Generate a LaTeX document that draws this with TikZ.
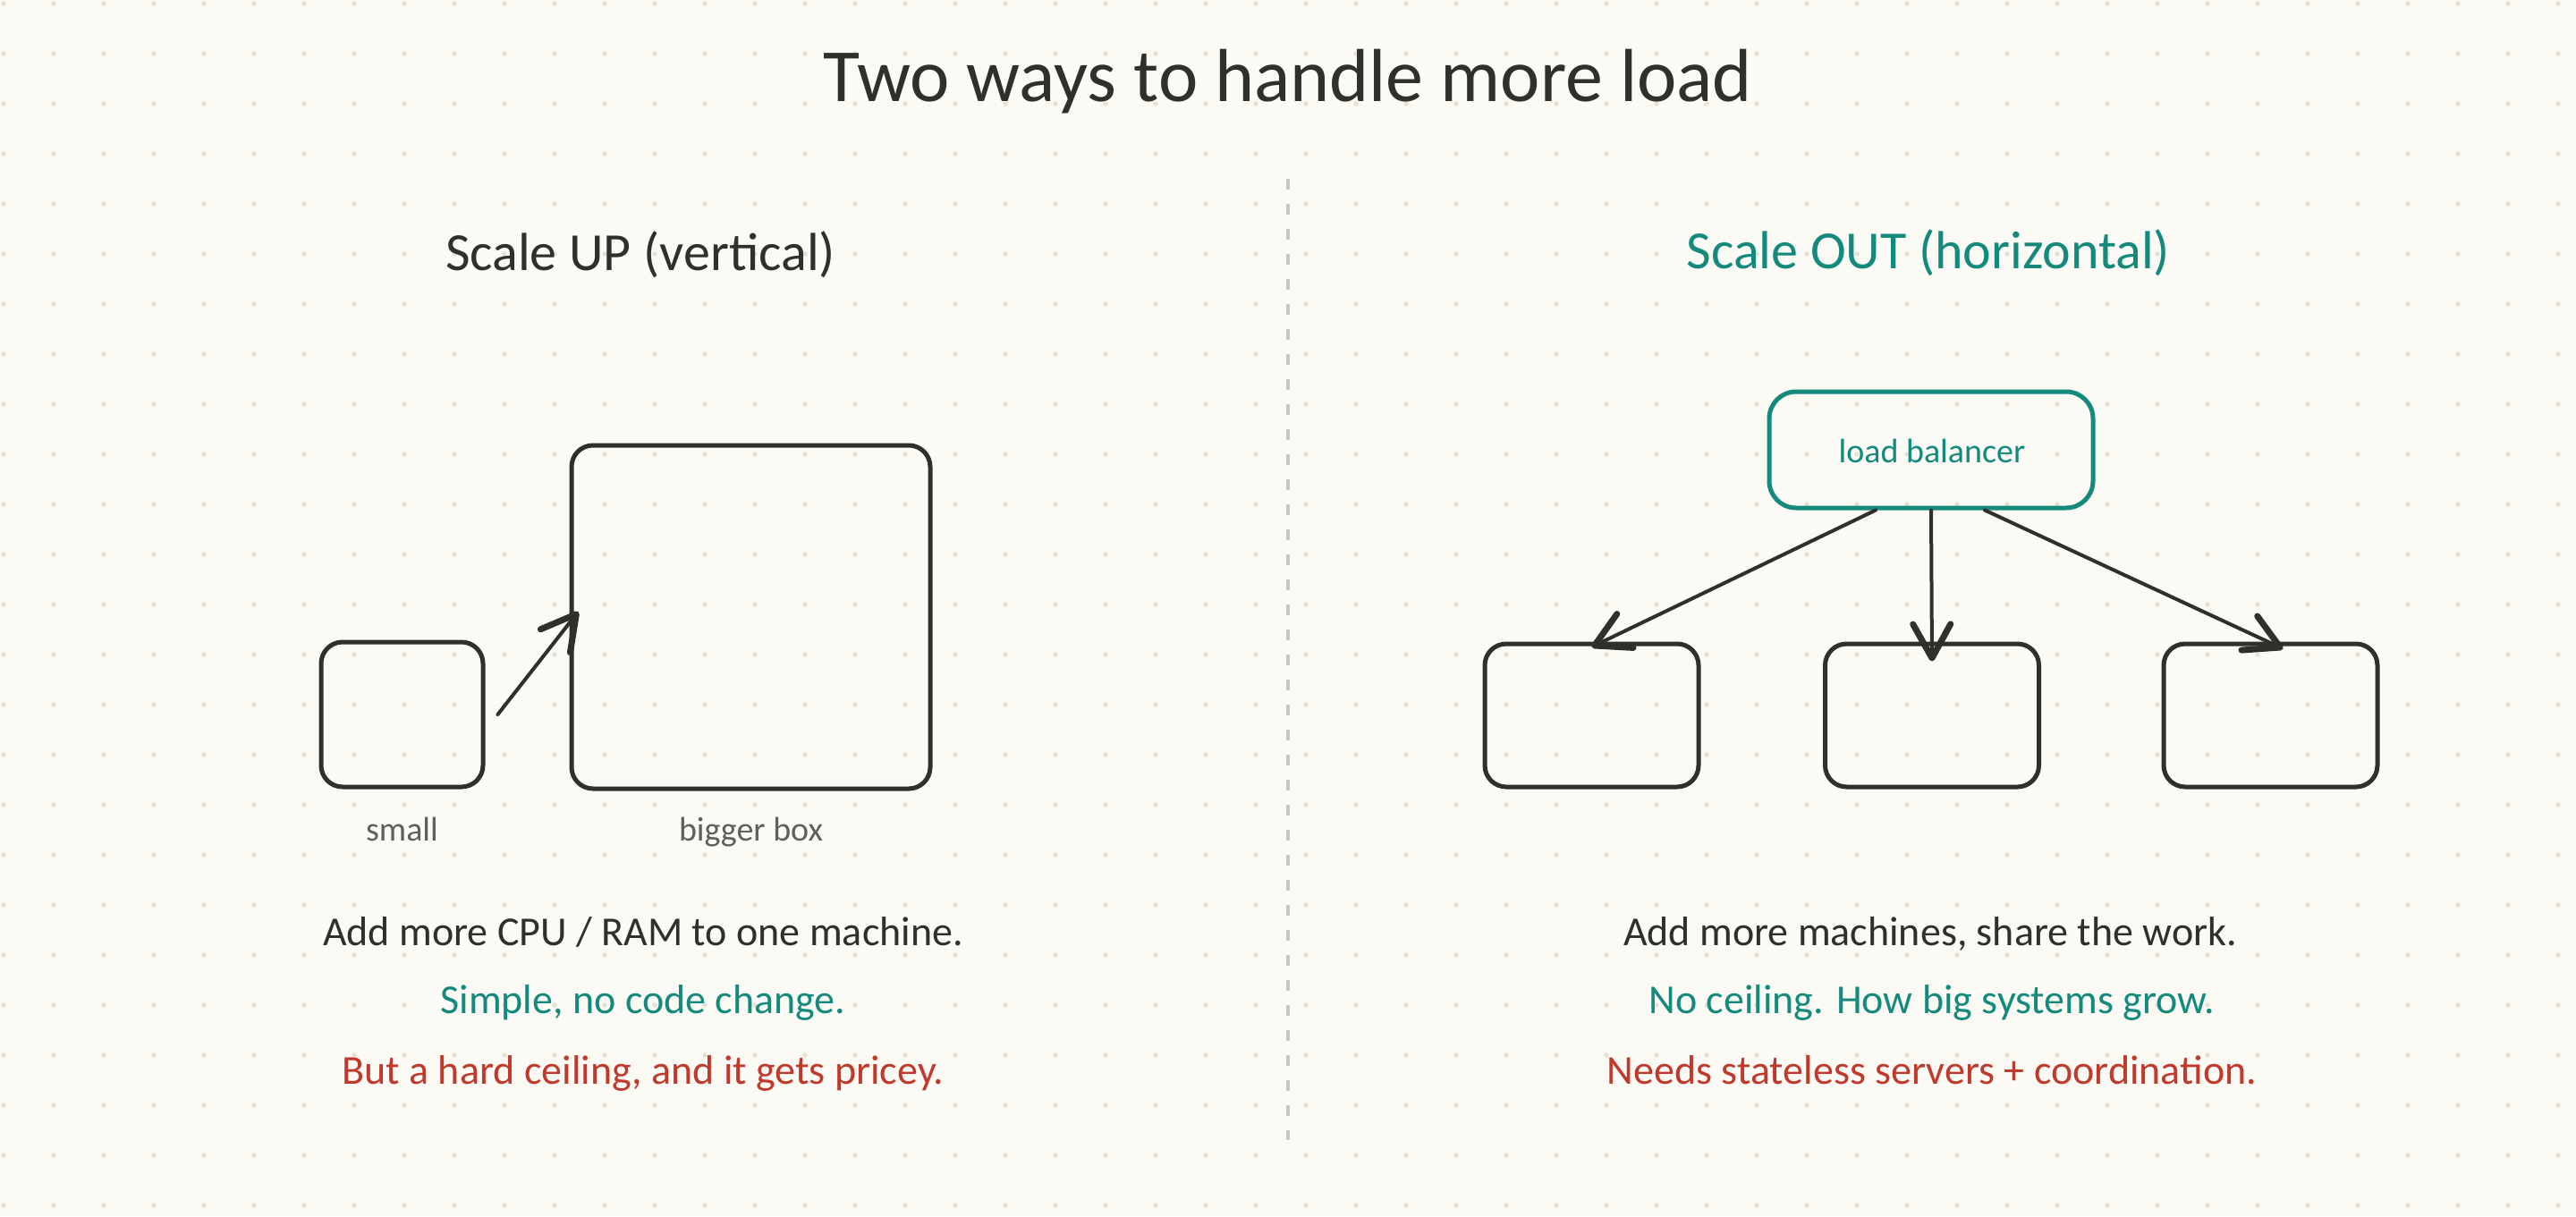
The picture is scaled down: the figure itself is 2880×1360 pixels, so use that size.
\documentclass[tikz,border=0pt]{standalone}
\usepackage{fontspec}
\setmainfont{Carlito}
\usetikzlibrary{arrows.meta}
\definecolor{paper}{HTML}{FBFAF5}
\definecolor{dotc}{HTML}{E6E2D5}
\definecolor{ink}{HTML}{2F2F2C}
\definecolor{teal}{HTML}{138A7C}
\definecolor{warn}{HTML}{C0392B}
\definecolor{soft}{HTML}{5F5F5C}
\tikzset{
  box/.style={draw=ink,line width=2.5pt,rounded corners=12pt,inner sep=0pt},
  lbbox/.style={box,draw=teal,rounded corners=15pt},
  arr/.style={draw=ink,line width=2pt,line cap=round,
    -{Straight Barb[length=19pt,width=21pt,line width=3.5pt,round]}},
  lbl/.style={anchor=base,font=\fontsize{19}{22}\selectfont,text=soft},
  body/.style={anchor=base,font=\fontsize{23}{27}\selectfont},
  head/.style={anchor=base,font=\fontsize{30}{34}\selectfont},
}
\begin{document}
\begin{tikzpicture}[x=.5pt,y=-.5pt]
\path[use as bounding box,fill=paper] (0,0) rectangle (2880,1360);
\foreach \i in {0,...,51}{\foreach \j in {0,...,24}{\fill[dotc] (4+56*\i,4+56*\j) circle (2.8);}}
\draw[dotc!85!ink,line width=2pt,dash pattern=on 6pt off 8pt] (1440,200) -- (1440,1275);
\node[anchor=base,font=\fontsize{42}{48}\selectfont,text=ink] (title) at (1440,113) {Two ways to handle more load};
% scale up
\node[head,text=ink] (uphead) at (716,302) {Scale UP (vertical)};
\node[box,minimum width=90.5pt,minimum height=81pt] (small) at (449.5,799) {};
\node[box,minimum width=200.5pt,minimum height=192pt] (big) at (839.5,690) {};
\draw[arr] ([xshift=7pt]small.east) -- ([xshift=5pt,yshift=3pt]big.west);
\node[lbl] (smalllbl) at (449.5,940) {small};
\node[lbl] (biglbl) at (839.5,940) {bigger box};
\node[body,text=ink] (up1) at (719,1057) {Add more CPU / RAM to one machine.};
\node[body,text=teal] (up2) at (719,1133) {Simple, no code change.};
\node[body,text=warn] (up3) at (719,1212) {But a hard ceiling, and it gets pricey.};
% scale out
\node[head,text=teal] (outhead) at (2156,300) {Scale OUT (horizontal)};
\node[lbbox,minimum width=181pt,minimum height=65pt] (lb) at (2159,503) {};
\node[lbl,text=teal] (lblbl) at (2160,517) {load balancer};
\foreach \n/\x in {s1/1779.5,s2/2160,s3/2538.5}{\node[box,minimum width=119.5pt,minimum height=80pt] (\n) at (\x,800) {};}
\draw[arr] ([xshift=-31pt]lb.south) -- ([yshift=-3pt]s1.north);
\draw[arr] (lb.south) -- ([yshift=-11pt]s2.north);
\draw[arr] ([xshift=30pt]lb.south) -- ([xshift=7pt,yshift=-4pt]s3.north);
\node[body,text=ink] (out1) at (2158,1057) {Add more machines, share the work.};
\node[body,text=teal] (out2) at (2160,1133) {No ceiling. How big systems grow.};
\node[body,text=warn] (out3) at (2160,1212) {Needs stateless servers + coordination.};
\end{tikzpicture}
\end{document}
